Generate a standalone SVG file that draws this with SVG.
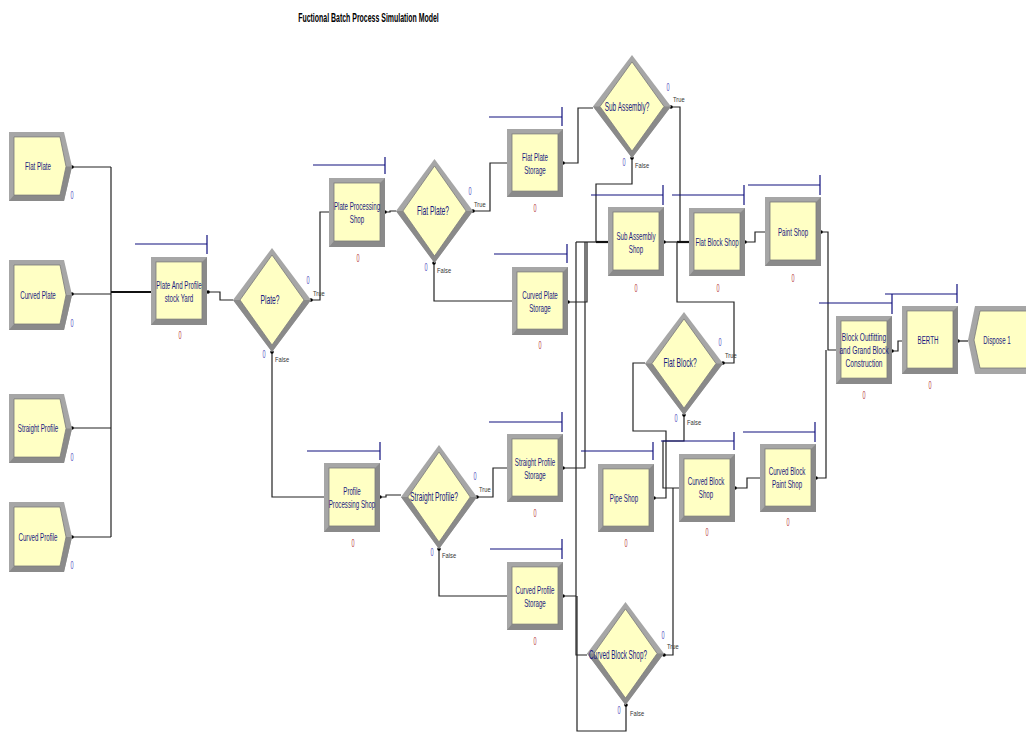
<svg xmlns="http://www.w3.org/2000/svg" xmlns:xlink="http://www.w3.org/1999/xlink" width="1026" height="732" viewBox="0 0 1026 732">
<style>
.t{font-family:"Liberation Sans",Arial,sans-serif;font-size:11px;fill:#1a1a80;text-anchor:middle}
.d{font-family:"Liberation Sans",Arial,sans-serif;font-size:12px;fill:#1a1a80;text-anchor:middle}
.tf{font-family:"Liberation Sans",Arial,sans-serif;font-size:8px;fill:#333}
.cb{font-family:"Liberation Sans",Arial,sans-serif;font-size:11px;fill:#5656c0;text-anchor:middle}
.cr{font-family:"Liberation Sans",Arial,sans-serif;font-size:11px;fill:#b84848;text-anchor:middle}
.ttl{font-family:"Liberation Sans",Arial,sans-serif;font-size:12px;font-weight:bold;fill:#000;text-anchor:middle}
.res{stroke:#10107e;stroke-width:1.2;fill:none}
.c{stroke:#222;stroke-width:1.2;fill:none}
.ck{stroke:#111;stroke-width:2.2;fill:none}
.dot{fill:#000}
</style>
<defs>
<symbol id="proc" viewBox="0 0 56 69" preserveAspectRatio="none">
<rect x="0" y="0" width="56" height="69" fill="#a6a6a6"/>
<polygon points="0,69 56,69 56,0 51,5 51,63 5,63" fill="#8a8a8a"/>
<rect x="5" y="5" width="46" height="58" fill="#ffffc4" stroke="#7a7a7a" stroke-width="0.8"/>
</symbol>
<symbol id="create" viewBox="0 0 63 70" preserveAspectRatio="none">
<polygon points="0,0 55,0 63,35 55,70 0,70" fill="#a6a6a6"/>
<polygon points="0,70 55,70 63,35 57,35 51,64 5,64" fill="#8a8a8a"/>
<polygon points="5,5 51,5 57,35 51,64 5,64" fill="#ffffc4" stroke="#7a7a7a" stroke-width="0.8"/>
</symbol>
<symbol id="decide" viewBox="0 0 78 104" preserveAspectRatio="none">
<polygon points="39,0 78,52 39,104 0,52" fill="#a6a6a6"/>
<polygon points="78,52 39,104 0,52 7,52 39,97 71,52" fill="#8a8a8a"/>
<polygon points="39,7 71,52 39,97 7,52" fill="#ffffc4" stroke="#7a7a7a" stroke-width="0.8"/>
</symbol>
</defs>
<rect width="1026" height="732" fill="#fff"/>
<text class="ttl" transform="translate(368.5,22) scale(0.58,1)">Fuctional Batch Process Simulation Model</text>

<g id="connectors">
<polyline class="c" points="72,167 111,167"/>
<polyline class="c" points="72,294 111,294"/>
<polyline class="c" points="72,428 111,428"/>
<polyline class="c" points="72,537 111,537"/>
<polyline class="c" points="111,167 111,537"/>
<polyline class="ck" points="111,292 151,292"/>
<polyline class="c" points="208,292 220,292 220,300 233,300"/>
<polyline class="c" points="311,300 320,300 320,212 329,212"/>
<polyline class="c" points="272,352 272,497 324,497"/>
<polyline class="c" points="385,212 390,212 390,211 396,211"/>
<polyline class="c" points="473,211 490,211 490,163 507,163"/>
<polyline class="c" points="434,263 434,301 512,301"/>
<polyline class="c" points="563,163 578,163 578,108 593,108"/>
<polyline class="c" points="632,158 632,184 596,184 596,242"/>
<polyline class="c" points="576,242 596,242"/>
<polyline class="ck" points="596,242 608,242"/>
<polyline class="c" points="671,107 680,107 680,242"/>
<polyline class="c" points="568,302 587,302 587,242"/>
<polyline class="c" points="563,468 585,468 585,242"/>
<polyline class="c" points="563,596 576,596 576,242"/>
<polyline class="c" points="576,596 576,655 587,655"/>
<polyline class="c" points="626,705 626,731 577,731 577,596"/>
<polyline class="c" points="664,242 677,242"/>
<polyline class="ck" points="677,242 689,242"/>
<polyline class="c" points="723,363 734,363 734,302 677,302 677,242"/>
<polyline class="c" points="745,242 755,242 755,232 765,232"/>
<polyline class="c" points="821,232 828,232 828,350 836,350"/>
<polyline class="c" points="816,478 826,478 826,350"/>
<polyline class="c" points="892,351 898,351 898,341 902,341"/>
<polyline class="c" points="958,341 968,341"/>
<polyline class="c" points="380,497 386,497 386,495 401,495"/>
<polyline class="c" points="477,497 493,497 493,468 507,468"/>
<polyline class="c" points="439,549 439,596 507,596"/>
<polyline class="c" points="684,415 684,441 663,441 663,488 679,488"/>
<polyline class="c" points="654,498 666,498 666,431 633,431 633,363 645,363"/>
<polyline class="c" points="664,655 673,655 673,488"/>
<polyline class="c" points="735,488 747,488 747,478 760,478"/>
<g class="dot">
<circle cx="72" cy="167" r="1.8"/><circle cx="72" cy="294" r="1.8"/><circle cx="72" cy="428" r="1.8"/><circle cx="72" cy="537" r="1.8"/>
<circle cx="208" cy="292" r="1.8"/><circle cx="311" cy="300" r="1.8"/><circle cx="272" cy="352" r="1.8"/>
<circle cx="385" cy="212" r="1.8"/><circle cx="473" cy="211" r="1.8"/><circle cx="434" cy="263" r="1.8"/>
<circle cx="563" cy="163" r="1.8"/><circle cx="671" cy="107" r="1.8"/><circle cx="632" cy="158" r="1.8"/>
<circle cx="568" cy="302" r="1.8"/><circle cx="563" cy="468" r="1.8"/><circle cx="563" cy="596" r="1.8"/>
<circle cx="664" cy="242" r="1.8"/><circle cx="745" cy="242" r="1.8"/><circle cx="821" cy="232" r="1.8"/>
<circle cx="723" cy="363" r="1.8"/><circle cx="684" cy="415" r="1.8"/><circle cx="892" cy="351" r="1.8"/>
<circle cx="958" cy="341" r="1.8"/><circle cx="380" cy="497" r="1.8"/><circle cx="477" cy="497" r="1.8"/>
<circle cx="439" cy="549" r="1.8"/><circle cx="654" cy="498" r="1.8"/><circle cx="735" cy="488" r="1.8"/>
<circle cx="816" cy="478" r="1.8"/><circle cx="664" cy="655" r="1.8"/><circle cx="626" cy="705" r="1.8"/>
</g>
</g>

<g id="flat_plate">
<use xlink:href="#create" href="#create" x="9" y="132" width="63" height="69"/>
<text class="t" transform="translate(38,170) scale(0.56,1)">Flat Plate</text>
<text class="cb" transform="translate(72,199) scale(0.5,1)">0</text>
</g>
<g id="curved_plate">
<use xlink:href="#create" href="#create" x="9" y="260" width="63" height="70"/>
<text class="t" transform="translate(38,299) scale(0.56,1)">Curved Plate</text>
<text class="cb" transform="translate(72,327) scale(0.5,1)">0</text>
</g>
<g id="straight_profile">
<use xlink:href="#create" href="#create" x="9" y="394" width="63" height="69"/>
<text class="t" transform="translate(38,432) scale(0.56,1)">Straight Profile</text>
<text class="cb" transform="translate(72,461) scale(0.5,1)">0</text>
</g>
<g id="curved_profile">
<use xlink:href="#create" href="#create" x="9" y="502" width="63" height="70"/>
<text class="t" transform="translate(38,541) scale(0.56,1)">Curved Profile</text>
<text class="cb" transform="translate(72,569) scale(0.5,1)">0</text>
</g>

<g id="stock_yard">
<use href="#proc" xlink:href="#proc" x="151" y="257" width="56" height="68"/>
<text class="t" transform="translate(179,289) scale(0.56,1)"><tspan x="0" y="0">Plate And Profile</tspan><tspan x="0" y="13">stock Yard</tspan></text>
<polyline class="res" points="135,244 207,244"/><polyline class="res" points="207,235 207,254"/>
<text class="cr" transform="translate(180,339) scale(0.5,1)">0</text>
</g>
<g id="plate_processing_shop">
<use href="#proc" xlink:href="#proc" x="329" y="178" width="56" height="69"/>
<text class="t" transform="translate(357,210) scale(0.56,1)"><tspan x="0" y="0">Plate Processing</tspan><tspan x="0" y="13">Shop</tspan></text>
<polyline class="res" points="313,165 385,165"/><polyline class="res" points="385,157 385,174"/>
<text class="cr" transform="translate(358,262) scale(0.5,1)">0</text>
</g>
<g id="flat_plate_storage">
<use href="#proc" xlink:href="#proc" x="507" y="129" width="56" height="68"/>
<text class="t" transform="translate(535,161) scale(0.56,1)"><tspan x="0" y="0">Flat Plate</tspan><tspan x="0" y="13">Storage</tspan></text>
<polyline class="res" points="489,117 562,117"/><polyline class="res" points="562,107 562,126"/>
<text class="cr" transform="translate(535,212) scale(0.5,1)">0</text>
</g>
<g id="curved_plate_storage">
<use href="#proc" xlink:href="#proc" x="512" y="267" width="56" height="68"/>
<text class="t" transform="translate(540,299) scale(0.56,1)"><tspan x="0" y="0">Curved Plate</tspan><tspan x="0" y="13">Storage</tspan></text>
<polyline class="res" points="494,254 567,254"/><polyline class="res" points="567,244 567,263"/>
<text class="cr" transform="translate(540,349) scale(0.5,1)">0</text>
</g>
<g id="sub_assembly_shop">
<use href="#proc" xlink:href="#proc" x="608" y="207" width="56" height="69"/>
<text class="t" transform="translate(636,240) scale(0.56,1)"><tspan x="0" y="0">Sub Assembly</tspan><tspan x="0" y="13">Shop</tspan></text>
<polyline class="res" points="591,195 663,195"/><polyline class="res" points="663,185 663,205"/>
<text class="cr" transform="translate(636,292) scale(0.5,1)">0</text>
</g>
<g id="flat_block_shop">
<use href="#proc" xlink:href="#proc" x="689" y="208" width="56" height="68"/>
<text class="t" transform="translate(717,246) scale(0.56,1)">Flat Block Shop</text>
<polyline class="res" points="672,195 744,195"/><polyline class="res" points="744,185 744,205"/>
<text class="cr" transform="translate(718,292) scale(0.5,1)">0</text>
</g>
<g id="paint_shop">
<use href="#proc" xlink:href="#proc" x="765" y="197" width="56" height="69"/>
<text class="t" transform="translate(793,236) scale(0.56,1)">Paint Shop</text>
<polyline class="res" points="748,185 820,185"/><polyline class="res" points="820,175 820,195"/>
<text class="cr" transform="translate(793,282) scale(0.5,1)">0</text>
</g>
<g id="block_outfitting">
<use href="#proc" xlink:href="#proc" x="836" y="316" width="56" height="68"/>
<text class="t" transform="translate(864,341) scale(0.6,1)"><tspan x="0" y="0">Block Outfitting</tspan><tspan x="0" y="13">and Grand Block</tspan><tspan x="0" y="26">Construction</tspan></text>
<polyline class="res" points="819,303 892,303"/><polyline class="res" points="892,294 892,314"/>
<text class="cr" transform="translate(864,399) scale(0.5,1)">0</text>
</g>
<g id="berth">
<use href="#proc" xlink:href="#proc" x="902" y="306" width="56" height="68"/>
<text class="t" transform="translate(928,344) scale(0.56,1)">BERTH</text>
<polyline class="res" points="885,294 957,294"/><polyline class="res" points="957,284 957,303"/>
<text class="cr" transform="translate(930,389) scale(0.5,1)">0</text>
</g>
<g id="dispose_1">
<polygon points="975,306 1032,306 1032,374 975,374 968,340" fill="#a6a6a6"/>
<polygon points="980,311 1032,311 1032,368 980,368 974,340" fill="#ffffc4" stroke="#7a7a7a" stroke-width="0.8"/>
<text class="t" transform="translate(997,344) scale(0.56,1)">Dispose 1</text>
</g>
<g id="profile_processing_shop">
<use href="#proc" xlink:href="#proc" x="324" y="463" width="56" height="69"/>
<text class="t" transform="translate(352,495) scale(0.56,1)"><tspan x="0" y="0">Profile</tspan><tspan x="0" y="13">Processing Shop</tspan></text>
<polyline class="res" points="307,451 380,451"/><polyline class="res" points="380,442 380,460"/>
<text class="cr" transform="translate(353,547) scale(0.5,1)">0</text>
</g>
<g id="straight_profile_storage">
<use href="#proc" xlink:href="#proc" x="507" y="434" width="56" height="68"/>
<text class="t" transform="translate(535,466) scale(0.56,1)"><tspan x="0" y="0">Straight Profile</tspan><tspan x="0" y="13">Storage</tspan></text>
<polyline class="res" points="489,422 562,422"/><polyline class="res" points="562,412 562,432"/>
<text class="cr" transform="translate(535,517) scale(0.5,1)">0</text>
</g>
<g id="curved_profile_storage">
<use href="#proc" xlink:href="#proc" x="507" y="562" width="56" height="68"/>
<text class="t" transform="translate(535,594) scale(0.56,1)"><tspan x="0" y="0">Curved Profile</tspan><tspan x="0" y="13">Storage</tspan></text>
<polyline class="res" points="490,549 562,549"/><polyline class="res" points="562,539 562,559"/>
<text class="cr" transform="translate(535,645) scale(0.5,1)">0</text>
</g>
<g id="pipe_shop">
<use href="#proc" xlink:href="#proc" x="598" y="464" width="56" height="68"/>
<text class="t" transform="translate(624,502) scale(0.56,1)">Pipe Shop</text>
<polyline class="res" points="581,451 653,451"/><polyline class="res" points="653,442 653,460"/>
<text class="cr" transform="translate(626,547) scale(0.5,1)">0</text>
</g>
<g id="curved_block_shop">
<use href="#proc" xlink:href="#proc" x="679" y="454" width="56" height="68"/>
<text class="t" transform="translate(706,485) scale(0.56,1)"><tspan x="0" y="0">Curved Block</tspan><tspan x="0" y="13">Shop</tspan></text>
<polyline class="res" points="661,441 734,441"/><polyline class="res" points="734,432 734,450"/>
<text class="cr" transform="translate(707,536) scale(0.5,1)">0</text>
</g>
<g id="curved_block_paint_shop">
<use href="#proc" xlink:href="#proc" x="760" y="444" width="56" height="68"/>
<text class="t" transform="translate(787,475) scale(0.56,1)"><tspan x="0" y="0">Curved Block</tspan><tspan x="0" y="13">Paint Shop</tspan></text>
<polyline class="res" points="743,432 815,432"/><polyline class="res" points="815,422 815,442"/>
<text class="cr" transform="translate(788,526) scale(0.5,1)">0</text>
</g>

<g id="plate_decide">
<use href="#decide" xlink:href="#decide" x="233" y="248" width="78" height="104"/>
<text class="d" transform="translate(270,304) scale(0.56,1)">Plate?</text>
<text class="cb" transform="translate(308,284) scale(0.5,1)">0</text>
<text class="tf" transform="translate(313,296) scale(0.72,1)">True</text>
<text class="cb" transform="translate(264,358) scale(0.5,1)">0</text>
<text class="tf" transform="translate(275,362) scale(0.72,1)">False</text>
</g>
<g id="flat_plate_decide">
<use href="#decide" xlink:href="#decide" x="396" y="159" width="77" height="104"/>
<text class="d" transform="translate(433,215) scale(0.56,1)">Flat Plate?</text>
<text class="cb" transform="translate(470,195) scale(0.5,1)">0</text>
<text class="tf" transform="translate(474,207) scale(0.72,1)">True</text>
<text class="cb" transform="translate(426,271) scale(0.5,1)">0</text>
<text class="tf" transform="translate(437,273) scale(0.72,1)">False</text>
</g>
<g id="sub_assembly_decide">
<use href="#decide" xlink:href="#decide" x="593" y="55" width="78" height="103"/>
<text class="d" transform="translate(627,111) scale(0.54,1)">Sub Assembly?</text>
<text class="cb" transform="translate(668,91) scale(0.5,1)">0</text>
<text class="tf" transform="translate(673,102) scale(0.72,1)">True</text>
<text class="cb" transform="translate(624,166) scale(0.5,1)">0</text>
<text class="tf" transform="translate(635,168) scale(0.72,1)">False</text>
</g>
<g id="straight_profile_decide">
<use href="#decide" xlink:href="#decide" x="401" y="445" width="76" height="104"/>
<text class="d" transform="translate(434,501) scale(0.56,1)">Straight Profile?</text>
<text class="cb" transform="translate(475,480) scale(0.5,1)">0</text>
<text class="tf" transform="translate(479,492) scale(0.72,1)">True</text>
<text class="cb" transform="translate(432,556) scale(0.5,1)">0</text>
<text class="tf" transform="translate(442,558) scale(0.72,1)">False</text>
</g>
<g id="flat_block_decide">
<use href="#decide" xlink:href="#decide" x="645" y="312" width="78" height="103"/>
<text class="d" transform="translate(680,367) scale(0.56,1)">Flat Block?</text>
<text class="cb" transform="translate(720,346) scale(0.5,1)">0</text>
<text class="tf" transform="translate(725,358) scale(0.72,1)">True</text>
<text class="cb" transform="translate(676,422) scale(0.5,1)">0</text>
<text class="tf" transform="translate(687,425) scale(0.72,1)">False</text>
</g>
<g id="curved_block_shop_decide">
<use href="#decide" xlink:href="#decide" x="587" y="602" width="77" height="103"/>
<text class="d" transform="translate(618,659) scale(0.53,1)">Curved Block Shop?</text>
<text class="cb" transform="translate(663,639) scale(0.5,1)">0</text>
<text class="tf" transform="translate(667,649) scale(0.72,1)">True</text>
<text class="cb" transform="translate(619,714) scale(0.5,1)">0</text>
<text class="tf" transform="translate(630,716) scale(0.72,1)">False</text>
</g>
</svg>
